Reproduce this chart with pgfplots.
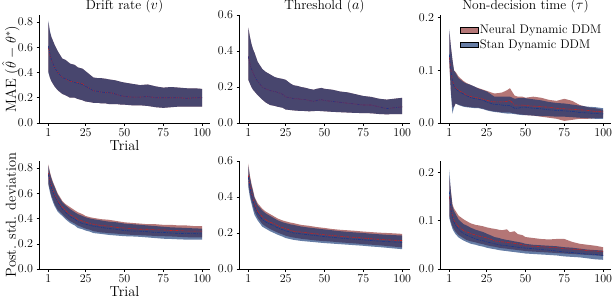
\documentclass[border=0pt]{standalone}
\usepackage{pgfplots}
\pgfplotsset{compat=1.18}
\usepackage{pgfplotstable}
\usepgfplotslibrary{fillbetween}
\definecolor{nfill}{RGB}{130,27,27}
\definecolor{sfill}{RGB}{0,38,105}
\definecolor{nline}{RGB}{195,35,35}
\definecolor{sline}{RGB}{25,55,140}

% panel 1: drift rate MAE
\pgfplotstableread{
x nlo nm nhi slo sm shi
1 0.41 0.60 0.80 0.40 0.61 0.81
2 0.36 0.54 0.72 0.36 0.55 0.73
3 0.33 0.50 0.68 0.33 0.50 0.68
4 0.31 0.47 0.65 0.31 0.47 0.65
5 0.29 0.44 0.62 0.29 0.44 0.62
7 0.26 0.40 0.57 0.26 0.40 0.57
10 0.23 0.36 0.51 0.23 0.36 0.51
12 0.22 0.35 0.50 0.22 0.35 0.50
15 0.20 0.33 0.47 0.20 0.335 0.47
18 0.20 0.325 0.46 0.20 0.32 0.46
20 0.19 0.32 0.44 0.19 0.315 0.44
23 0.18 0.31 0.43 0.18 0.305 0.43
25 0.17 0.29 0.41 0.17 0.29 0.41
28 0.165 0.27 0.38 0.165 0.27 0.38
30 0.16 0.255 0.36 0.16 0.255 0.36
33 0.16 0.25 0.355 0.16 0.25 0.355
35 0.155 0.245 0.355 0.155 0.245 0.355
38 0.155 0.24 0.35 0.155 0.24 0.35
40 0.15 0.24 0.345 0.15 0.24 0.345
43 0.15 0.235 0.34 0.15 0.235 0.34
45 0.15 0.225 0.335 0.15 0.225 0.335
48 0.145 0.215 0.325 0.145 0.215 0.325
50 0.145 0.21 0.32 0.145 0.21 0.32
55 0.14 0.205 0.31 0.14 0.205 0.31
60 0.14 0.205 0.30 0.14 0.205 0.30
65 0.135 0.21 0.305 0.135 0.21 0.305
70 0.125 0.20 0.29 0.125 0.20 0.29
75 0.12 0.20 0.28 0.12 0.20 0.28
80 0.125 0.20 0.285 0.125 0.20 0.285
85 0.13 0.20 0.28 0.13 0.20 0.28
90 0.13 0.195 0.275 0.13 0.195 0.275
95 0.13 0.20 0.275 0.13 0.20 0.275
100 0.13 0.20 0.27 0.13 0.20 0.27
}\tabA

% panel 2: threshold MAE
\pgfplotstableread{
x nlo nm nhi slo sm shi
1 0.24 0.37 0.53 0.24 0.37 0.53
2 0.22 0.33 0.48 0.22 0.33 0.48
3 0.20 0.30 0.44 0.20 0.30 0.44
4 0.185 0.28 0.41 0.185 0.28 0.41
5 0.175 0.26 0.39 0.175 0.26 0.39
7 0.155 0.23 0.34 0.155 0.23 0.34
10 0.13 0.20 0.30 0.13 0.20 0.30
12 0.115 0.19 0.285 0.115 0.19 0.285
15 0.10 0.18 0.27 0.10 0.18 0.27
18 0.095 0.175 0.255 0.095 0.175 0.255
20 0.09 0.17 0.25 0.09 0.17 0.25
23 0.085 0.16 0.245 0.085 0.16 0.245
25 0.075 0.145 0.24 0.075 0.145 0.24
28 0.072 0.14 0.22 0.072 0.14 0.22
30 0.07 0.135 0.21 0.07 0.135 0.21
33 0.068 0.135 0.205 0.068 0.135 0.205
35 0.068 0.13 0.20 0.068 0.13 0.20
38 0.066 0.13 0.195 0.066 0.13 0.195
40 0.065 0.125 0.19 0.065 0.125 0.19
43 0.066 0.12 0.185 0.066 0.12 0.185
45 0.068 0.125 0.19 0.068 0.125 0.19
48 0.066 0.13 0.195 0.066 0.13 0.195
50 0.065 0.125 0.19 0.065 0.125 0.19
55 0.062 0.12 0.185 0.062 0.12 0.185
60 0.06 0.115 0.175 0.06 0.115 0.175
65 0.058 0.11 0.17 0.058 0.11 0.17
70 0.056 0.105 0.16 0.056 0.105 0.16
75 0.055 0.10 0.15 0.055 0.10 0.15
80 0.054 0.10 0.145 0.054 0.10 0.145
85 0.05 0.09 0.135 0.05 0.09 0.135
90 0.048 0.08 0.13 0.048 0.08 0.13
95 0.05 0.085 0.135 0.05 0.085 0.135
100 0.05 0.09 0.14 0.05 0.09 0.14
}\tabB

% panel 3: non-decision time MAE
\pgfplotstableread{
x nlo nm nhi slo sm shi
1 0.11 0.125 0.175 0.12 0.13 0.178
2 0.06 0.10 0.145 0.056 0.10 0.145
3 0.03 0.08 0.12 0.018 0.08 0.12
4 0.03 0.072 0.10 0.03 0.07 0.10
5 0.037 0.066 0.097 0.037 0.065 0.095
7 0.035 0.062 0.088 0.034 0.06 0.085
10 0.032 0.057 0.08 0.031 0.055 0.078
12 0.031 0.053 0.076 0.03 0.052 0.075
15 0.03 0.05 0.072 0.029 0.048 0.072
18 0.029 0.048 0.068 0.028 0.046 0.068
20 0.029 0.047 0.066 0.028 0.045 0.065
23 0.027 0.045 0.063 0.026 0.043 0.062
25 0.025 0.043 0.061 0.024 0.04 0.06
28 0.023 0.041 0.058 0.022 0.037 0.054
30 0.022 0.04 0.056 0.021 0.035 0.05
33 0.021 0.04 0.057 0.02 0.035 0.05
35 0.02 0.04 0.058 0.019 0.034 0.05
38 0.02 0.041 0.062 0.018 0.033 0.05
40 0.02 0.043 0.066 0.018 0.033 0.05
43 0.018 0.034 0.052 0.017 0.028 0.046
45 0.017 0.034 0.05 0.016 0.028 0.047
48 0.016 0.034 0.05 0.015 0.03 0.047
50 0.015 0.033 0.048 0.015 0.03 0.047
55 0.014 0.032 0.05 0.014 0.028 0.045
60 0.012 0.031 0.048 0.013 0.027 0.043
65 0.01 0.03 0.044 0.013 0.025 0.04
70 0.008 0.028 0.042 0.012 0.024 0.038
75 0.004 0.027 0.046 0.012 0.023 0.037
80 0.006 0.026 0.042 0.011 0.022 0.035
85 0.008 0.025 0.034 0.01 0.02 0.033
90 0.008 0.024 0.03 0.009 0.019 0.031
95 0.009 0.022 0.028 0.008 0.018 0.03
100 0.01 0.021 0.025 0.008 0.017 0.028
}\tabC

% panel 4: drift rate posterior sd
\pgfplotstableread{
x nlo nm nhi slo sm shi
1 0.68 0.76 0.83 0.67 0.75 0.82
2 0.63 0.70 0.77 0.61 0.69 0.76
3 0.58 0.66 0.725 0.565 0.645 0.715
4 0.55 0.62 0.69 0.53 0.61 0.68
5 0.515 0.59 0.66 0.50 0.58 0.65
7 0.47 0.54 0.60 0.455 0.53 0.59
10 0.435 0.49 0.54 0.42 0.475 0.53
12 0.41 0.465 0.515 0.395 0.45 0.505
15 0.38 0.43 0.49 0.365 0.415 0.475
18 0.36 0.41 0.465 0.345 0.395 0.45
20 0.345 0.39 0.45 0.325 0.375 0.435
23 0.33 0.38 0.435 0.315 0.36 0.42
25 0.32 0.37 0.42 0.305 0.355 0.41
28 0.31 0.36 0.41 0.295 0.345 0.40
30 0.30 0.355 0.405 0.285 0.34 0.395
35 0.29 0.345 0.395 0.278 0.33 0.385
40 0.285 0.34 0.39 0.27 0.32 0.375
45 0.28 0.33 0.38 0.265 0.315 0.37
50 0.275 0.325 0.37 0.26 0.305 0.36
55 0.27 0.32 0.365 0.258 0.30 0.355
60 0.268 0.315 0.36 0.255 0.30 0.35
65 0.265 0.315 0.355 0.25 0.295 0.345
70 0.262 0.31 0.355 0.245 0.29 0.34
75 0.26 0.31 0.35 0.24 0.29 0.335
80 0.258 0.305 0.35 0.238 0.285 0.33
85 0.255 0.305 0.345 0.235 0.282 0.328
90 0.252 0.30 0.345 0.233 0.28 0.325
95 0.25 0.30 0.34 0.232 0.28 0.322
100 0.25 0.30 0.34 0.232 0.278 0.32
}\tabD

% panel 5: threshold posterior sd
\pgfplotstableread{
x nlo nm nhi slo sm shi
1 0.47 0.52 0.585 0.455 0.51 0.575
2 0.42 0.465 0.52 0.40 0.455 0.51
3 0.38 0.425 0.475 0.365 0.415 0.465
4 0.35 0.39 0.44 0.33 0.38 0.43
5 0.32 0.36 0.40 0.30 0.35 0.395
7 0.285 0.32 0.365 0.27 0.31 0.355
10 0.25 0.29 0.335 0.235 0.275 0.325
12 0.238 0.275 0.32 0.225 0.262 0.31
15 0.222 0.26 0.305 0.21 0.25 0.295
18 0.21 0.25 0.29 0.198 0.237 0.28
20 0.202 0.24 0.28 0.19 0.228 0.27
23 0.192 0.23 0.27 0.18 0.218 0.26
25 0.185 0.225 0.265 0.172 0.212 0.255
28 0.178 0.215 0.258 0.166 0.205 0.248
30 0.175 0.21 0.255 0.162 0.20 0.245
35 0.168 0.205 0.245 0.156 0.195 0.236
40 0.163 0.20 0.24 0.152 0.19 0.23
45 0.158 0.195 0.233 0.148 0.185 0.225
50 0.155 0.19 0.228 0.144 0.18 0.22
55 0.152 0.186 0.222 0.141 0.176 0.215
60 0.148 0.182 0.218 0.138 0.172 0.21
65 0.145 0.178 0.215 0.135 0.168 0.206
70 0.142 0.175 0.212 0.132 0.165 0.203
75 0.138 0.172 0.208 0.129 0.162 0.20
80 0.135 0.168 0.205 0.125 0.158 0.196
85 0.132 0.165 0.202 0.122 0.155 0.193
90 0.128 0.162 0.20 0.118 0.152 0.19
95 0.124 0.16 0.198 0.114 0.15 0.188
100 0.12 0.158 0.195 0.11 0.148 0.186
}\tabE

% panel 6: non-decision time posterior sd
\pgfplotstableread{
x nlo nm nhi slo sm shi
1 0.11 0.15 0.19 0.105 0.16 0.205
2 0.097 0.125 0.162 0.093 0.125 0.16
3 0.088 0.11 0.134 0.083 0.105 0.13
4 0.082 0.10 0.125 0.077 0.097 0.12
5 0.077 0.095 0.12 0.072 0.09 0.114
7 0.07 0.087 0.11 0.065 0.082 0.102
10 0.064 0.08 0.103 0.059 0.073 0.093
12 0.06 0.077 0.099 0.056 0.07 0.09
15 0.057 0.073 0.094 0.052 0.066 0.085
18 0.055 0.07 0.091 0.05 0.062 0.081
20 0.053 0.068 0.09 0.048 0.06 0.079
23 0.051 0.066 0.088 0.046 0.058 0.076
25 0.049 0.064 0.086 0.044 0.056 0.073
28 0.047 0.061 0.084 0.042 0.054 0.069
30 0.046 0.058 0.083 0.041 0.052 0.066
33 0.044 0.057 0.081 0.039 0.05 0.064
35 0.043 0.056 0.08 0.038 0.049 0.062
38 0.042 0.055 0.082 0.037 0.048 0.06
40 0.041 0.054 0.076 0.036 0.047 0.059
43 0.04 0.053 0.078 0.035 0.046 0.057
45 0.039 0.052 0.072 0.034 0.045 0.056
48 0.038 0.05 0.07 0.033 0.044 0.054
50 0.037 0.048 0.066 0.032 0.043 0.052
55 0.036 0.047 0.064 0.031 0.042 0.05
60 0.035 0.046 0.062 0.03 0.04 0.049
65 0.034 0.045 0.061 0.029 0.039 0.048
70 0.033 0.044 0.062 0.028 0.037 0.047
75 0.032 0.042 0.062 0.026 0.035 0.045
80 0.031 0.041 0.056 0.025 0.034 0.044
85 0.03 0.04 0.052 0.024 0.032 0.042
90 0.029 0.038 0.05 0.022 0.031 0.04
95 0.028 0.037 0.048 0.02 0.03 0.039
100 0.027 0.036 0.045 0.019 0.028 0.038
}\tabF

\newcommand{\panelplots}[2]{%
  \addplot[name path=#2nh, draw=none, forget plot] table[x=x,y=nhi]{#1};
  \addplot[name path=#2nl, draw=none, forget plot] table[x=x,y=nlo]{#1};
  \addplot[name path=#2sh, draw=none, forget plot] table[x=x,y=shi]{#1};
  \addplot[name path=#2sl, draw=none, forget plot] table[x=x,y=slo]{#1};
  \addplot[fill=nfill, fill opacity=0.6, draw=none] fill between[of=#2nh and #2nl];
  \addplot[fill=sfill, fill opacity=0.6, draw=none] fill between[of=#2sh and #2sl];
  \addplot[nline, line width=0.6pt, dash pattern=on 3pt off 1pt on 1pt off 1pt, forget plot] table[x=x,y=nm]{#1};
  \addplot[sline, line width=0.6pt, dash pattern=on 3pt off 1pt on 1pt off 1pt, forget plot] table[x=x,y=sm]{#1};
}

\pgfplotsset{
  panel/.style={
    scale only axis, width=171pt, height=108pt,
    anchor=south west,
    xmin=-5, xmax=105, ymin=0,
    axis lines*=left,
    axis line style={line width=0.6pt, -},
    xtick={1,25,50,75,100},
    tick align=outside, major tick length=2.5pt,
    tick style={black, line width=0.5pt},
    tick label style={font=\fontsize{12.5}{13}\selectfont},
    yticklabel style={/pgf/number format/fixed, /pgf/number format/fixed zerofill, /pgf/number format/precision=1},
    title style={font=\fontsize{13.5}{15}\selectfont, at={(0.5,1)}, anchor=base, yshift=0pt, inner sep=0pt},
    xlabel style={font=\fontsize{14.5}{16}\selectfont, at={(axis description cs:0.5,0)}, anchor=base, yshift=-27pt},
    ylabel style={font=\fontsize{14.5}{16}\selectfont, at={(axis description cs:-0.135,0.5)}, anchor=base},
    legend image code/.code={\fill[##1] (0pt,-4.5pt) rectangle (22pt,4.5pt);},
  },
}

\begin{document}
\begin{tikzpicture}

\begin{axis}[panel, at={(39pt,175pt)}, ymax=0.855, ytick={0,0.2,0.4,0.6,0.8},
  title={Drift rate ($v$)}, xlabel={Trial}, ylabel={MAE ($\hat{\theta}-\theta^{*}$)}]
\panelplots{\tabA}{a}
\end{axis}

\begin{axis}[panel, at={(239pt,175pt)}, ymax=0.6, ytick={0,0.2,0.4,0.6},
  title={Threshold ($a$)}]
\panelplots{\tabB}{b}
\end{axis}

\begin{axis}[panel, at={(440pt,175pt)}, ymax=0.205, ytick={0,0.1,0.2},
  title={Non-decision time ($\tau$)},
  legend style={at={(0.96,0.93)}, anchor=north east, draw=none, fill=none,
    font=\fontsize{12.5}{13}\selectfont, row sep=0pt, inner sep=0.5pt,
    /tikz/every even column/.append style={column sep=3pt}},
  legend cell align=left]
\panelplots{\tabC}{c}
\legend{Neural Dynamic DDM, Stan Dynamic DDM}
\end{axis}

\begin{axis}[panel, at={(39pt,29pt)}, ymax=0.856, ytick={0,0.2,0.4,0.6,0.8},
  xlabel={Trial}, ylabel={Post. std. deviation}]
\panelplots{\tabD}{d}
\end{axis}

\begin{axis}[panel, at={(239pt,29pt)}, ymax=0.6, ytick={0,0.2,0.4,0.6}]
\panelplots{\tabE}{e}
\end{axis}

\begin{axis}[panel, at={(440pt,29pt)}, ymax=0.223, ytick={0,0.1,0.2}]
\panelplots{\tabF}{f}
\end{axis}

\pgfresetboundingbox
\path[use as bounding box] (0pt,0pt) rectangle (614pt,298pt);
\end{tikzpicture}
\end{document}
